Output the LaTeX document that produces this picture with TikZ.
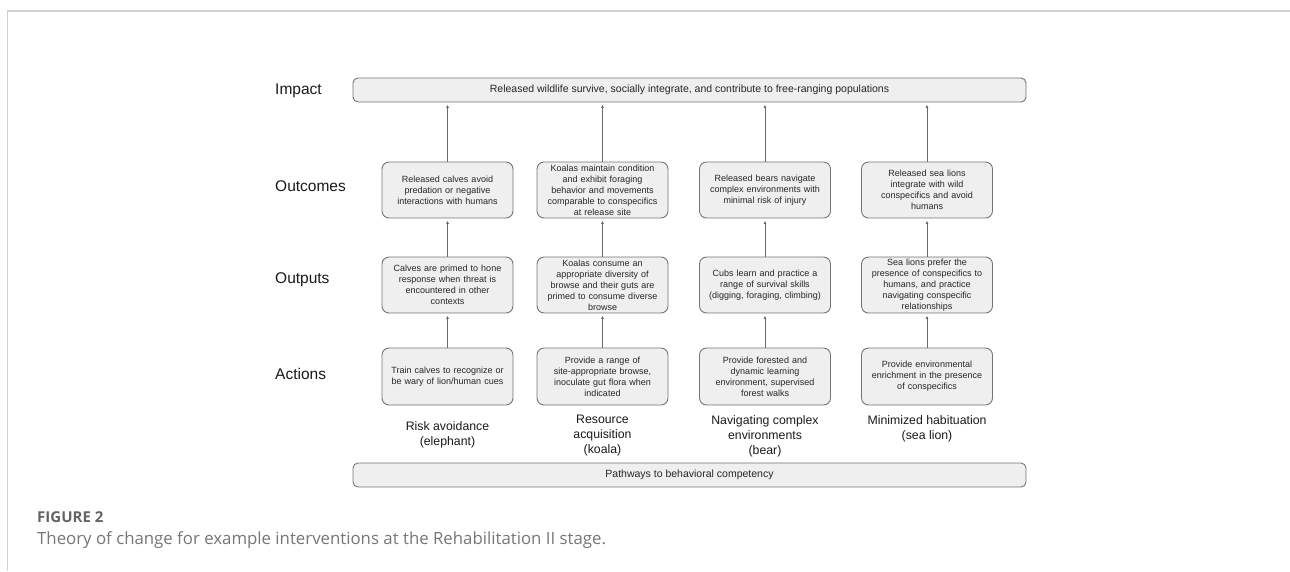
\documentclass[tikz,border=0pt]{standalone}
\usepackage{fontspec}
\setmainfont{Liberation Sans}
\newfontfamily\capfont{Open Sans}
\usetikzlibrary{arrows.meta}
\definecolor{boxfill}{HTML}{EFEFEF}
\definecolor{boxline}{HTML}{747474}
\definecolor{arrowcol}{HTML}{6A6A6A}
\definecolor{framecol}{HTML}{D2D2D2}
\definecolor{capdark}{HTML}{646464}
\definecolor{caplight}{HTML}{767676}
\begin{document}
\begin{tikzpicture}[x=1pt,y=-1pt,
  box/.style={draw=boxline, fill=boxfill, rounded corners=7pt, line width=0.9pt,
    minimum width=131pt, minimum height=56pt, text width=125pt, align=center,
    inner sep=0pt, font=\fontsize{9}{11}\selectfont, text=black!85},
  wide/.style={draw=boxline, fill=boxfill, rounded corners=5pt, line width=0.9pt,
    minimum width=673pt, minimum height=24pt, inner sep=0pt,
    font=\fontsize{10.5}{12}\selectfont, text=black!85},
  rowlab/.style={anchor=west, inner sep=0pt, font=\fontsize{15.5}{18}\selectfont, text=black!90},
  collab/.style={align=center, inner sep=0pt, font=\fontsize{12.3}{15}\selectfont, text=black!90},
  arr/.style={draw=arrowcol, line width=0.8pt, -{Triangle[length=3pt,width=2.6pt]}, shorten >=2.5pt},
]
\useasboundingbox (0,0) rectangle (1290,571);
% frame
\draw[framecol, line width=2pt] (7,11) -- (1290,11);
\draw[framecol, line width=1pt] (7,11) -- (7,571);

% row labels
\node[rowlab] (limp) at (275,91) {Impact};
\node[rowlab] (lout) at (275,186) {Outcomes};
\node[rowlab] (lput) at (275,280) {Outputs};
\node[rowlab] (lact) at (275,374) {Actions};

% impact and pathways
\node[wide] (imp) at (689.5,90) {Released wildlife survive, socially integrate, and contribute to free-ranging populations};
\node[wide] (path) at (689.5,475) {Pathways to behavioral competency};

% outcomes
\node[box] (o1) at (447.5,190) {Released calves avoid\\predation or negative\\interactions with humans};
\node[box] (o2) at (602.5,190) {Koalas maintain condition\\and exhibit foraging\\behavior and movements\\comparable to conspecifics\\at release site};
\node[box] (o3) at (765,190) {Released bears navigate\\complex environments with\\minimal risk of injury};
\node[box] (o4) at (927,190) {Released sea lions\\integrate with wild\\conspecifics and avoid\\humans};

% outputs
\node[box] (p1) at (447.5,285) {Calves are primed to hone\\response when threat is\\encountered in other\\contexts};
\node[box] (p2) at (602.5,285) {Koalas consume an\\appropriate diversity of\\browse and their guts are\\primed to consume diverse\\browse};
\node[box] (p3) at (765,285) {Cubs learn and practice a\\range of survival skills\\(digging, foraging, climbing)};
\node[box] (p4) at (927,285) {Sea lions prefer the\\presence of conspecifics to\\humans, and practice\\navigating conspecific\\relationships};

% actions
\node[box, minimum height=57pt] (a1) at (447.5,376.5) {Train calves to recognize or\\be wary of lion/human cues};
\node[box, minimum height=57pt] (a2) at (602.5,376.5) {Provide a range of\\site-appropriate browse,\\inoculate gut flora when\\indicated};
\node[box, minimum height=57pt] (a3) at (765,376.5) {Provide forested and\\dynamic learning\\environment, supervised\\forest walks};
\node[box, minimum height=57pt] (a4) at (927,376.5) {Provide environmental\\enrichment in the presence\\of conspecifics};

% column labels
\node[collab] (c1) at (447.5,435) {Risk avoidance\\(elephant)};
\node[collab] (c2) at (602.5,436) {Resource\\acquisition\\(koala)};
\node[collab] (c3) at (765,436) {Navigating complex\\environments\\(bear)};
\node[collab] (c4) at (927,428.5) {Minimized habituation\\(sea lion)};

% arrows
\foreach \i in {1,2,3,4}{
  \draw[arr] (a\i.north) -- (p\i.south);
  \draw[arr] (p\i.north) -- (o\i.south);
  \draw[arr] (o\i.north) -- (o\i.north |- imp.south);
}

% caption
\node[anchor=west, inner sep=0pt, font=\capfont\bfseries\fontsize{15}{18}\selectfont, text=capdark] (fig) at (37,517) {FIGURE 2};
\node[anchor=west, inner sep=0pt, font=\capfont\fontsize{16.8}{20}\selectfont, text=caplight] (cap) at (37,540) {Theory of change for example interventions at the Rehabilitation II stage.};
\end{tikzpicture}
\end{document}
